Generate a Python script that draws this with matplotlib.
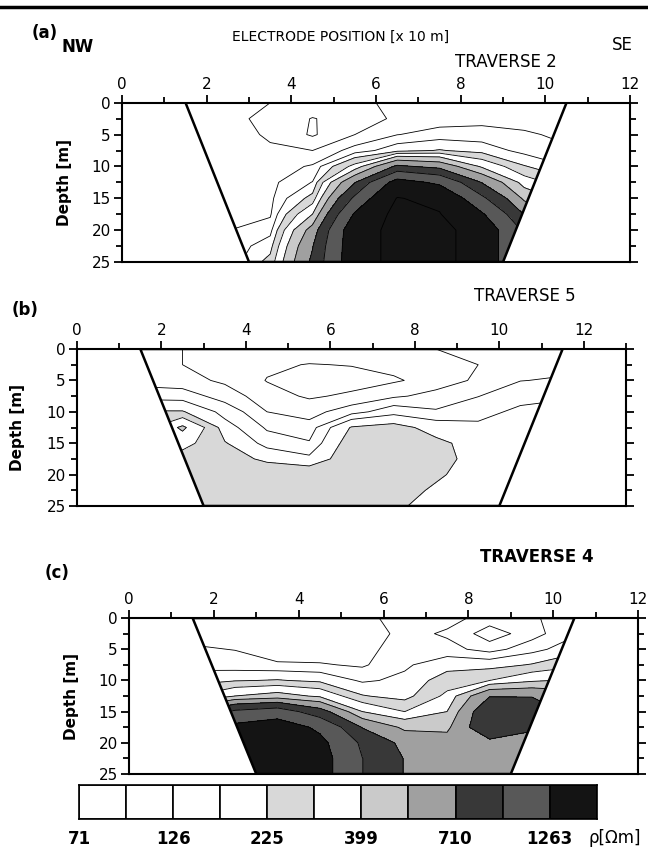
#!/bin/python
# pseudosecciones de resistividad aparente, tres traversas

import numpy as np
from matplotlib import pyplot as plt
from matplotlib.colors import ListedColormap, BoundaryNorm
from matplotlib.patches import Polygon
from matplotlib.ticker import MultipleLocator

# niveles de resistividad [Ohm m] y etiquetas de la escala
niveles = [71, 95, 126, 168, 225, 300, 399, 532, 710, 947, 1263, 1684]
etiq_escala = ['71', '126', '225', '399', '710', '1263']

prof = [0, 2.5, 5, 7.5, 10, 12.5, 15, 17.5, 20, 22.5, 25]

# traversa 2
x_a = [1.5, 2.5, 3.5, 4.5, 5.5, 6.5, 7.5, 8.5, 9.5, 10.5]
rho_a = [
    [110, 105, 95, 85, 90, 100, 110, 115, 115, 115],
    [110, 105, 85, 70, 80, 100, 110, 115, 115, 115],
    [115, 110, 90, 68, 95, 125, 140, 140, 130, 120],
    [120, 115, 100, 95, 140, 200, 230, 200, 150, 130],
    [125, 120, 110, 130, 330, 750, 650, 380, 230, 170],
    [130, 120, 115, 170, 700, 1400, 1200, 700, 350, 250],
    [130, 120, 115, 250, 1000, 1700, 1600, 1000, 500, 350],
    [130, 120, 120, 400, 1300, 1800, 1700, 1300, 700, 500],
    [130, 125, 150, 600, 1500, 1800, 1800, 1500, 900, 600],
    [130, 130, 200, 700, 1500, 1800, 1800, 1500, 900, 600],
    [130, 130, 250, 750, 1500, 1800, 1800, 1500, 900, 600],
]
trap_a = [(1.5, 0), (3, 25), (9, 25), (10.5, 0)]

# traversa 5
x_b = [1.5, 2.5, 3.5, 4.5, 5.5, 6.5, 7.5, 8.5, 9.5, 10.5, 11.5]
rho_b = [
    [100, 95, 90, 85, 85, 85, 90, 95, 100, 110, 115],
    [100, 95, 85, 75, 70, 72, 78, 85, 95, 110, 115],
    [110, 105, 90, 70, 62, 62, 68, 80, 100, 125, 130],
    [150, 145, 110, 80, 68, 75, 90, 105, 125, 150, 160],
    [230, 230, 150, 95, 85, 110, 150, 130, 150, 180, 190],
    [250, 420, 190, 120, 105, 230, 250, 200, 180, 200, 210],
    [250, 330, 230, 150, 130, 260, 290, 240, 200, 210, 220],
    [250, 260, 260, 210, 180, 270, 290, 240, 210, 210, 220],
    [250, 260, 270, 280, 280, 270, 260, 230, 210, 200, 210],
    [250, 260, 270, 290, 280, 260, 240, 220, 210, 200, 210],
    [250, 260, 270, 280, 270, 250, 230, 215, 200, 200, 200],
]
trap_b = [(1.5, 0), (3, 25), (10, 25), (11.5, 0)]

# traversa 4
x_c = [1.5, 2.5, 3.5, 4.5, 5.5, 6.5, 7.5, 8.5, 9.5, 10.5]
rho_c = [
    [110, 105, 100, 100, 110, 150, 140, 110, 120, 150],
    [115, 110, 100, 95, 100, 140, 120, 80, 110, 160],
    [130, 125, 110, 100, 110, 150, 140, 110, 150, 200],
    [150, 140, 130, 130, 120, 160, 200, 200, 230, 280],
    [200, 220, 230, 210, 160, 180, 260, 300, 380, 420],
    [300, 400, 450, 380, 230, 200, 320, 700, 700, 600],
    [650, 1000, 1100, 800, 400, 300, 400, 900, 850, 650],
    [950, 1350, 1450, 1200, 700, 500, 500, 900, 750, 600],
    [1100, 1500, 1500, 1350, 900, 650, 600, 650, 600, 550],
    [1200, 1600, 1600, 1400, 950, 700, 650, 600, 580, 550],
    [1200, 1600, 1600, 1400, 950, 700, 650, 600, 580, 550],
]
trap_c = [(1.5, 0), (3, 25), (9, 25), (10.5, 0)]

grises = ['white', 'white', 'white', 'white', '#d8d8d8', 'white',
          '#cacaca', '#a0a0a0', '#383838', '#585858', '#141414']
cmap = ListedColormap(grises)
cmap.set_under('white')
cmap.set_over('#141414')
norm = BoundaryNorm(niveles, cmap.N)


def panel(ax, x, rho, trap, xmax, xlab_x):
    X, Z = np.meshgrid(x, prof)
    rho = np.array(rho, dtype=float)
    cs = ax.contourf(X, Z, rho, levels=niveles, cmap=cmap, norm=norm, extend='both')
    cl = ax.contour(X, Z, rho, levels=niveles, colors='k', linewidths=0.6)
    borde = Polygon(trap, closed=True, fill=False, lw=1.8, ec='k', zorder=3)
    ax.add_patch(borde)
    cs.set_clip_path(borde)
    cl.set_clip_path(borde)
    ax.set_xlim(0, xmax)
    ax.set_ylim(25, 0)
    ax.xaxis.tick_top()
    ax.xaxis.set_major_locator(MultipleLocator(2))
    ax.xaxis.set_minor_locator(MultipleLocator(1))
    ax.yaxis.set_major_locator(MultipleLocator(5))
    ax.yaxis.set_minor_locator(MultipleLocator(2.5))
    ax.tick_params(which='both', direction='out', top=True, bottom=False,
                   left=True, right=True, labelright=False, width=1.3)
    ax.tick_params(which='major', length=6, labelsize=11, pad=2)
    ax.tick_params(which='minor', length=4)
    for s in ax.spines.values():
        s.set_linewidth(1.5)
    ax.set_ylabel('Depth [m]', fontsize=11, fontweight='bold')
    ax.yaxis.set_label_coords(xlab_x, 0.5)


fig = plt.figure(figsize=(6.48, 8.49), dpi=100)

ax1 = fig.add_axes([0.1883, 0.6914, 0.784, 0.1876])
panel(ax1, x_a, rho_a, trap_a, 12, -0.098)
ax2 = fig.add_axes([0.1188, 0.404, 0.8472, 0.1849])
panel(ax2, x_b, rho_b, trap_b, 13, -0.095)
ax3 = fig.add_axes([0.1991, 0.0883, 0.7855, 0.1837])
panel(ax3, x_c, rho_c, trap_c, 12, -0.098)

# escala de grises
axc = fig.add_axes([0.1219, 0.0353, 0.799, 0.040])
axc.bar(range(len(grises)), 1, width=1, color=grises, edgecolor='k', linewidth=1.2)
axc.set_xlim(-0.5, len(grises) - 0.5)
axc.set_ylim(0, 1)
axc.set_yticks([])
axc.set_xticks(np.arange(-0.5, len(grises), 2))
axc.set_xticklabels(etiq_escala, fontsize=12, fontweight='bold')
axc.tick_params(axis='x', length=0, pad=8)
for s in axc.spines.values():
    s.set_linewidth(1.2)

# textos
fig.add_artist(plt.Line2D([0, 1], [0.992, 0.992], color='k', lw=2.5))
fig.text(0.069, 0.961, '(a)', fontsize=12, fontweight='bold', ha='center', va='center')
fig.text(0.120, 0.945, 'NW', fontsize=12, fontweight='bold', ha='center', va='center')
fig.text(0.525, 0.956, 'ELECTRODE POSITION [x 10 m]', fontsize=10, ha='center', va='center')
fig.text(0.960, 0.947, 'SE', fontsize=12, ha='center', va='center')
fig.text(0.78, 0.927, 'TRAVERSE 2', fontsize=12, ha='center', va='center')
fig.text(0.81, 0.651, 'TRAVERSE 5', fontsize=12, ha='center', va='center')
fig.text(0.039, 0.635, '(b)', fontsize=12, fontweight='bold', ha='center', va='center')
fig.text(0.829, 0.344, 'TRAVERSE 4', fontsize=12, fontweight='bold', ha='center', va='center')
fig.text(0.088, 0.325, '(c)', fontsize=12, fontweight='bold', ha='center', va='center')
fig.text(0.949, 0.013, 'ρ[Ωm]', fontsize=12, ha='center', va='center')

plt.savefig('out.png', dpi=100)
